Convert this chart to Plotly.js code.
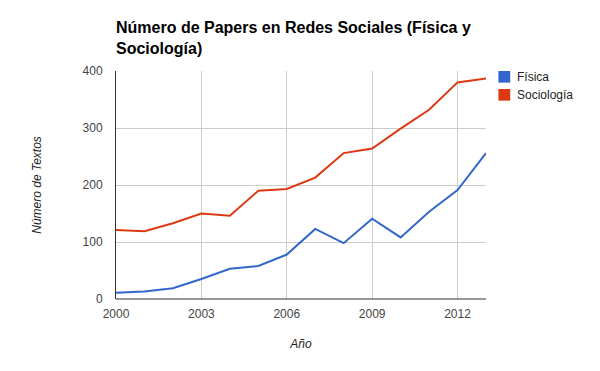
<!DOCTYPE html>
<html>
<head>
<meta charset="utf-8">
<script src="https://cdn.plot.ly/plotly-3.0.1.min.js"></script>
<style>html,body{margin:0;padding:0;background:#fff;}#chart{width:600px;height:371px;}</style>
</head>
<body>
<div id="chart"></div>
<script>
const years = [2000,2001,2002,2003,2004,2005,2006,2007,2008,2009,2010,2011,2012,2013];
const fisica = [11,13,19,35,53,58,78,123,98,141,108,153,191,256];
const sociologia = [121,119,133,150,146,190,193,213,256,264,299,332,380,387];
const seriesNames = ['Física','Sociología'];
const colors = ['#3366cc','#dc3912'];
const xTicks = [2000,2003,2006,2009,2012];
const yTicks = [0,100,200,300,400];

const font = 'Liberation Sans, Arial, sans-serif';
const seriesValues = [fisica, sociologia];
const traces = seriesValues.map((vals, i) => ({
  x: years, y: vals, type:'scatter', mode:'lines', name: seriesNames[i],
  line:{color:colors[i], width:2}, showlegend:false
}));

// legend drawn as swatches + text (positions in paper coords)
const legShapes = [], legAnn = [];
const legX0 = 1.0335, legX1 = 1.0655, legTextX = 1.078;
const legRows = [{y0:0.949, y1:1.0, yc:0.9737}, {y0:0.870, y1:0.921, yc:0.8947}];
seriesNames.forEach((n, i) => {
  legShapes.push({type:'rect', xref:'paper', yref:'paper', x0:legX0, x1:legX1, y0:legRows[i].y0, y1:legRows[i].y1, fillcolor:colors[i], line:{width:0}});
  legAnn.push({xref:'paper', yref:'paper', x:legTextX, y:legRows[i].yc, xanchor:'left', yanchor:'middle', text:n, showarrow:false, font:{family:font, size:12, color:'#222'}});
});

const layout = {
  width:600, height:371,
  margin:{l:116, r:114, t:71, b:72, pad:0, autoexpand:false},
  paper_bgcolor:'#fff', plot_bgcolor:'#fff',
  font:{family:font, size:12, color:'#444'},
  title:{text:'<b>Número de Papers en Redes Sociales (Física y<br>Sociología)</b>', font:{family:font, size:16, color:'#000'}, xref:'container', x:116/600, xanchor:'left', yref:'container', y:1-33/371, yanchor:'top', automargin:false},
  xaxis:{range:[2000,2013], tickvals:xTicks, ticktext:xTicks.map(String), showgrid:true, gridcolor:'#cccccc', gridwidth:1, zeroline:false, showline:false, ticks:'outside', ticklen:4, tickcolor:'rgba(0,0,0,0)', tickfont:{size:12,color:'#444'},
    title:{text:'<i>Año</i>', font:{size:12,color:'#222'}, standoff:19}, fixedrange:true},
  yaxis:{range:[0,400], tickvals:yTicks, showgrid:true, gridcolor:'#cccccc', gridwidth:1, zeroline:false, showline:true, linecolor:'#333', linewidth:1, ticks:'outside', ticklen:10, tickcolor:'rgba(0,0,0,0)', tickfont:{size:12,color:'#444'},
    title:{text:'<i>Número de Textos</i>', font:{size:12,color:'#222'}, standoff:38}, fixedrange:true},
  shapes:[{type:'line', xref:'paper', yref:'paper', x0:0, x1:1, y0:0, y1:0, line:{color:'#333', width:1}}].concat(legShapes),
  annotations: legAnn,
  showlegend:false
};
Plotly.newPlot('chart', traces, layout, {displayModeBar:false, staticPlot:true});
</script>
</body>
</html>
